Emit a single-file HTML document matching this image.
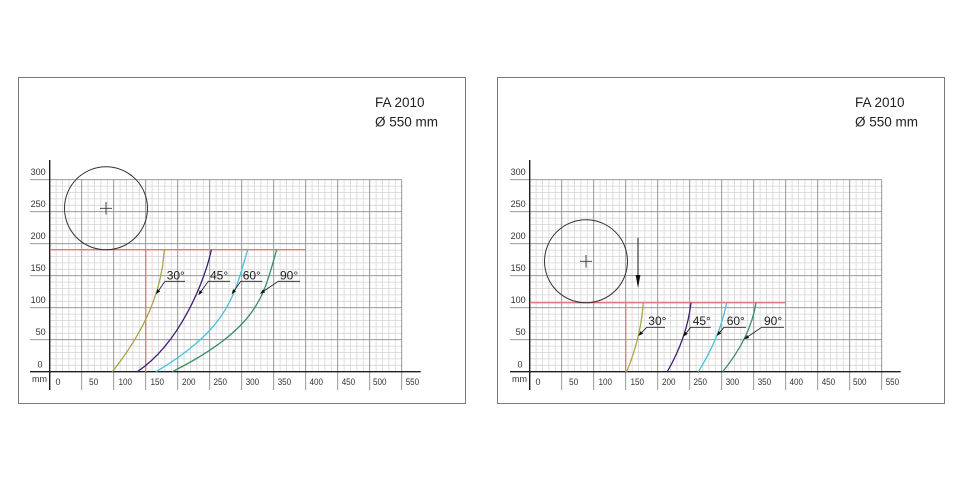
<!DOCTYPE html>
<html>
<head>
<meta charset="utf-8">
<style>
html,body{margin:0;padding:0;background:#fff;}
svg{display:block;}
text{font-family:"Liberation Sans",Arial,sans-serif;fill:#2a2a2a;}
.t{font-size:9px;fill:#333;}
.lab{font-size:12px;fill:#222;}
.ttl{font-size:13.5px;fill:#222;}
</style>
</head>
<body>
<svg width="960" height="480" viewBox="0 0 960 480" xmlns="http://www.w3.org/2000/svg">
<rect x="0" y="0" width="960" height="480" fill="#fff"/>
<defs>
<g id="grid">
  <path fill="none" stroke="#d6d6d6" stroke-width="0.8" d="M56.1 179.7V371.7M62.5 179.7V371.7M68.9 179.7V371.7M75.3 179.7V371.7M88.1 179.7V371.7M94.5 179.7V371.7M100.9 179.7V371.7M107.3 179.7V371.7M120.1 179.7V371.7M126.5 179.7V371.7M132.9 179.7V371.7M139.3 179.7V371.7M152.1 179.7V371.7M158.5 179.7V371.7M164.9 179.7V371.7M171.3 179.7V371.7M184.1 179.7V371.7M190.5 179.7V371.7M196.9 179.7V371.7M203.3 179.7V371.7M216.1 179.7V371.7M222.5 179.7V371.7M228.9 179.7V371.7M235.3 179.7V371.7M248.1 179.7V371.7M254.5 179.7V371.7M260.9 179.7V371.7M267.3 179.7V371.7M280.1 179.7V371.7M286.5 179.7V371.7M292.9 179.7V371.7M299.3 179.7V371.7M312.1 179.7V371.7M318.5 179.7V371.7M324.9 179.7V371.7M331.3 179.7V371.7M344.1 179.7V371.7M350.5 179.7V371.7M356.9 179.7V371.7M363.3 179.7V371.7M376.1 179.7V371.7M382.5 179.7V371.7M388.9 179.7V371.7M395.3 179.7V371.7
  M49.7 365.3H401.7M49.7 358.9H401.7M49.7 352.5H401.7M49.7 346.1H401.7M49.7 333.3H401.7M49.7 326.9H401.7M49.7 320.5H401.7M49.7 314.1H401.7M49.7 301.3H401.7M49.7 294.9H401.7M49.7 288.5H401.7M49.7 282.1H401.7M49.7 269.3H401.7M49.7 262.9H401.7M49.7 256.5H401.7M49.7 250.1H401.7M49.7 237.3H401.7M49.7 230.9H401.7M49.7 224.5H401.7M49.7 218.1H401.7M49.7 205.3H401.7M49.7 198.9H401.7M49.7 192.5H401.7M49.7 186.1H401.7"/>
  <path fill="none" stroke="#8c8c8c" stroke-width="0.9" d="M81.7 179.7V390M113.7 179.7V390M145.7 179.7V390M177.7 179.7V390M209.7 179.7V390M241.7 179.7V390M273.7 179.7V390M305.7 179.7V390M337.7 179.7V390M369.7 179.7V390M401.7 179.7V390M30 179.7H401.7M30 211.7H401.7M30 243.7H401.7M30 275.7H401.7M30 307.7H401.7M30 339.7H401.7"/>
  <path fill="none" stroke="#1e1e1e" stroke-width="1.4" d="M49.7 160V390M30 371.7H420.7"/>
</g>
</defs>

<!-- panel borders -->
<rect x="18.5" y="77.5" width="447" height="326" fill="none" stroke="#7a7a7a" stroke-width="1"/>
<rect x="497.5" y="77.5" width="447" height="326" fill="none" stroke="#7a7a7a" stroke-width="1"/>

<!-- grids -->
<use href="#grid"/>
<use href="#grid" transform="translate(480,0)"/>

<!-- ===== LEFT PANEL ===== -->
<text class="ttl" x="375" y="107">FA 2010</text>
<text class="ttl" x="375" y="126.3">Ø 550 mm</text>

<g class="t">
<text class="t" x="45.7" y="174.9" text-anchor="end">300</text>
<text class="t" x="45.7" y="207.2" text-anchor="end">250</text>
<text class="t" x="45.7" y="239.2" text-anchor="end">200</text>
<text class="t" x="45.7" y="271.2" text-anchor="end">150</text>
<text class="t" x="45.7" y="303" text-anchor="end">100</text>
<text class="t" x="45.7" y="335" text-anchor="end">50</text>
<text class="t" x="40" y="367.3" text-anchor="middle">0</text>
<text class="t" x="32" y="381.8">mm</text>
<text class="t" x="55.5" y="385">0</text>
<text class="t" x="89" y="385" textLength="9.3" lengthAdjust="spacingAndGlyphs">50</text>
<text class="t" x="118.5" y="385" textLength="13.5" lengthAdjust="spacingAndGlyphs">100</text>
<text class="t" x="150.5" y="385" textLength="13.5" lengthAdjust="spacingAndGlyphs">150</text>
<text class="t" x="182" y="385" textLength="13.5" lengthAdjust="spacingAndGlyphs">200</text>
<text class="t" x="213.5" y="385" textLength="13.5" lengthAdjust="spacingAndGlyphs">250</text>
<text class="t" x="245.7" y="385" textLength="13.5" lengthAdjust="spacingAndGlyphs">300</text>
<text class="t" x="277.7" y="385" textLength="13.5" lengthAdjust="spacingAndGlyphs">350</text>
<text class="t" x="309.5" y="385" textLength="13.5" lengthAdjust="spacingAndGlyphs">400</text>
<text class="t" x="341.7" y="385" textLength="13.5" lengthAdjust="spacingAndGlyphs">450</text>
<text class="t" x="373" y="385" textLength="13.5" lengthAdjust="spacingAndGlyphs">500</text>
<text class="t" x="405.7" y="385" textLength="13.5" lengthAdjust="spacingAndGlyphs">550</text>
</g>

<!-- red lines -->
<path fill="none" stroke="#e07c7c" stroke-width="1.3" d="M50 249.7H306M145.7 249.7V371.7"/>

<!-- circle -->
<circle cx="106" cy="208.3" r="41.5" fill="none" stroke="#333" stroke-width="1"/>
<path fill="none" stroke="#333" stroke-width="0.9" d="M100 208.3H112M106 202V214.6"/>

<!-- curves -->
<path fill="none" stroke="#aca548" stroke-width="1.3" d="M112.3,371.7 Q161.1,310.7 164.2,249.7"/>
<path fill="none" stroke="#3f1f72" stroke-width="1.3" d="M137.3,371.7 C180.7,342.8 205.5,278.6 211.3,249.7"/>
<path fill="none" stroke="#46c2dc" stroke-width="1.3" d="M156,371.7 C230,328.2 234.65,293.2 247.7,249.7"/>
<path fill="none" stroke="#3a8e68" stroke-width="1.3" d="M172.2,371.7 C262.2,326.7 264.1,291.7 276.7,249.7"/>

<!-- labels -->
<path fill="none" stroke="#222" stroke-width="0.9" d="M185 281.3H165L158.9 290.1M230 281.3H208.3L201.2 291.2M262.3 281.3H240.7L234.5 290.2M300 281.3H278.3L264.1 290.9"/>
<path fill="#111" d="M156,294.3L160.33,291.21L157.37,289.17ZM198.3,295.3L202.67,292.28L199.73,290.18ZM231.7,294.3L236.03,291.21L233.07,289.17ZM260,293.7L265.15,292.39L263.13,289.41Z"/>
<text class="lab" x="166.7" y="279.3">30°</text>
<text class="lab" x="210" y="279.3">45°</text>
<text class="lab" x="242.7" y="279.3">60°</text>
<text class="lab" x="280" y="279.3">90°</text>

<!-- ===== RIGHT PANEL ===== -->
<text class="ttl" x="855" y="107">FA 2010</text>
<text class="ttl" x="855" y="126.3">Ø 550 mm</text>

<g>
<text class="t" x="525.7" y="174.9" text-anchor="end">300</text>
<text class="t" x="525.7" y="207.2" text-anchor="end">250</text>
<text class="t" x="525.7" y="239.2" text-anchor="end">200</text>
<text class="t" x="525.7" y="271.2" text-anchor="end">150</text>
<text class="t" x="525.7" y="303" text-anchor="end">100</text>
<text class="t" x="525.7" y="335" text-anchor="end">50</text>
<text class="t" x="520" y="367.3" text-anchor="middle">0</text>
<text class="t" x="512" y="381.8">mm</text>
<text class="t" x="535.5" y="385">0</text>
<text class="t" x="569" y="385" textLength="9.3" lengthAdjust="spacingAndGlyphs">50</text>
<text class="t" x="598.5" y="385" textLength="13.5" lengthAdjust="spacingAndGlyphs">100</text>
<text class="t" x="630.5" y="385" textLength="13.5" lengthAdjust="spacingAndGlyphs">150</text>
<text class="t" x="662" y="385" textLength="13.5" lengthAdjust="spacingAndGlyphs">200</text>
<text class="t" x="693.5" y="385" textLength="13.5" lengthAdjust="spacingAndGlyphs">250</text>
<text class="t" x="725.7" y="385" textLength="13.5" lengthAdjust="spacingAndGlyphs">300</text>
<text class="t" x="757.7" y="385" textLength="13.5" lengthAdjust="spacingAndGlyphs">350</text>
<text class="t" x="789.5" y="385" textLength="13.5" lengthAdjust="spacingAndGlyphs">400</text>
<text class="t" x="821.7" y="385" textLength="13.5" lengthAdjust="spacingAndGlyphs">450</text>
<text class="t" x="853" y="385" textLength="13.5" lengthAdjust="spacingAndGlyphs">500</text>
<text class="t" x="885.7" y="385" textLength="13.5" lengthAdjust="spacingAndGlyphs">550</text>
</g>

<!-- red lines -->
<path fill="none" stroke="#e07c7c" stroke-width="1.3" d="M530 302.7H786M625.7 302.7V371.7"/>

<!-- circle -->
<circle cx="586" cy="261.3" r="41.5" fill="none" stroke="#333" stroke-width="1"/>
<path fill="none" stroke="#333" stroke-width="0.9" d="M580 261.3H592M586 255V267.6"/>

<!-- down arrow -->
<path fill="none" stroke="#222" stroke-width="1" d="M638 237.7V277"/>
<path fill="#111" d="M635.6,275L640.4,275L638,288Z"/>

<!-- curves -->
<path fill="none" stroke="#aca548" stroke-width="1.3" d="M626.7,371.7 Q641,337.2 643.3,302.7"/>
<path fill="none" stroke="#3f1f72" stroke-width="1.3" d="M667.3,371.7 Q687.1,337.2 691,302.7"/>
<path fill="none" stroke="#46c2dc" stroke-width="1.3" d="M698.3,371.7 Q719.9,337.2 726.7,302.7"/>
<path fill="none" stroke="#3a8e68" stroke-width="1.3" d="M722.7,371.7 Q750.7,337.2 756,302.7"/>

<!-- labels -->
<path fill="none" stroke="#222" stroke-width="0.9" d="M665 327.3H646.7L641.8 332.4M710.7 327.3H690.7L686.4 332.8M746 327.3H724L719.9 332.2M784 327.3H761.7L748.1 336.5"/>
<path fill="#111" d="M638.3,336L643.08,333.65L640.48,331.15ZM683.3,336.7L687.81,333.88L684.99,331.66ZM716.7,336L721.3,333.33L718.54,331.01ZM744,339.3L749.15,337.99L747.13,335.01Z"/>
<text class="lab" x="648.3" y="325">30°</text>
<text class="lab" x="692.7" y="325">45°</text>
<text class="lab" x="726.7" y="325">60°</text>
<text class="lab" x="764" y="325">90°</text>
</svg>
</body>
</html>
